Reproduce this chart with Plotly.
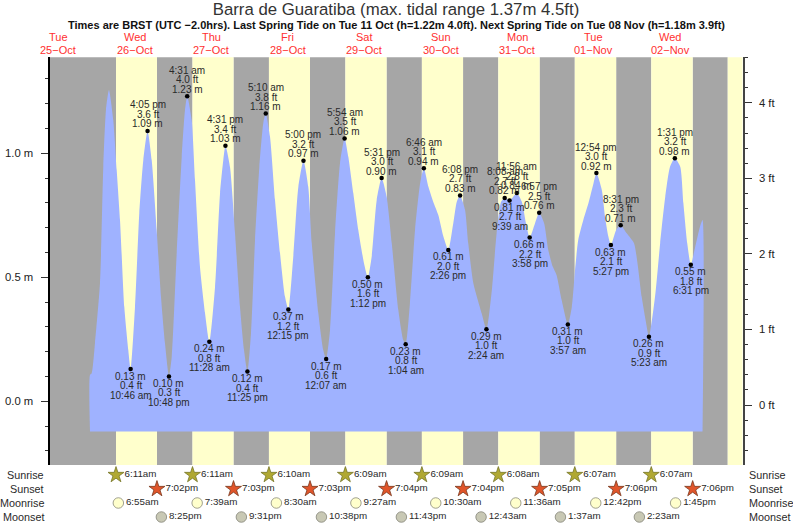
"""Tide chart for Barra de Guaratiba, 25-Oct to 03-Nov."""

import plotly.graph_objects as go

WIDTH = 793
HEIGHT = 525
FONT = "Liberation Sans"

# hours are counted from 26-Oct 00:00
X_RANGE = [-14.68, 202.8]
M_RANGE = [-0.257, 1.387]
FT_RANGE = [-0.794, 4.602]
TIDE_BASE = -0.122

day_names = ["Tue", "Wed", "Thu", "Fri", "Sat", "Sun", "Mon", "Tue", "Wed"]
day_dates = ["25−Oct", "26−Oct", "27−Oct", "28−Oct", "29−Oct", "30−Oct", "31−Oct", "01−Nov", "02−Nov"]

# high and low waters as printed on the chart
ext_day = [0, 0, 0, 1, 1, 1, 1, 2, 2, 2, 3, 3, 3, 3, 4, 4, 4, 4, 5, 5, 5, 5, 5, 5, 6, 6, 6, 6, 7, 7, 7]
ext_time = ["10:46 am", "4:05 pm", "10:48 pm", "4:31 am", "11:28 am", "4:31 pm", "11:25 pm",
            "5:10 am", "12:15 pm", "5:00 pm", "12:07 am", "5:54 am", "1:12 pm", "5:31 pm",
            "1:04 am", "6:46 am", "2:26 pm", "6:08 pm", "2:24 am", "8:08 am", "9:39 am",
            "11:56 am", "3:58 pm", "6:57 pm", "3:57 am", "12:54 pm", "5:27 pm", "8:31 pm",
            "5:23 am", "1:31 pm", "6:31 pm"]
ext_m = [0.13, 1.09, 0.10, 1.23, 0.24, 1.03, 0.12, 1.16, 0.37, 0.97, 0.17, 1.06, 0.50, 0.90,
         0.23, 0.94, 0.61, 0.83, 0.29, 0.82, 0.81, 0.84, 0.66, 0.76, 0.31, 0.92, 0.63, 0.71,
         0.26, 0.98, 0.55]
ext_ft = [0.4, 3.6, 0.3, 4.0, 0.8, 3.4, 0.4, 3.8, 1.2, 3.2, 0.6, 3.5, 1.6, 3.0,
          0.8, 3.1, 2.0, 2.7, 1.0, 2.7, 2.7, 2.8, 2.2, 2.5, 1.0, 3.0, 2.1, 2.3,
          0.9, 3.2, 1.8]
ext_low = [1, 0, 1, 0, 1, 0, 1, 0, 1, 0, 1, 0, 1, 0,
           1, 0, 1, 0, 1, 0, 1, 0, 1, 0, 1, 0, 1, 0,
           1, 0, 1]

# water level read between the printed extremes
mid_h = [-1.98, -1.44, -0.41, 1.16, 2.2, 3.04, 3.98, 5.33, 6.4, 7.44, 8.79, 10.04,
         12.14, 13.49, 14.75, 17.38, 18.95, 20.3, 21.55,
         23.66, 25.23, 26.8, 27.83, 29.93, 30.97, 32.54, 34.11,
         37.25, 38.83, 39.85, 41.95, 43.52, 45.09, 46.35,
         48.54, 49.8, 51.15, 52.4, 54.5, 56.07, 57.64, 59.2,
         61.8, 63.4, 66.5, 67.6, 69.66, 71.2,
         73.33, 74.9, 76.47, 79.07, 80.64, 82.2, 84.0,
         86.4, 87.98, 91.1, 92.7, 94.76, 96.3,
         98.4, 100.0, 101.6, 104.2, 105.7, 107.3, 108.9,
         112.0, 113.1, 115.7, 116.7, 118.3, 120.9,
         124.1, 125.6, 127.0, 130.8, 133.5, 134.8,
         137.65, 140.5, 141.8, 143.2, 144.4, 146.0,
         149.2, 150.2, 151.2, 152.8, 154.4, 156.0,
         158.6, 159.6, 160.65, 163.1, 166.4, 168.7, 169.8, 171.1, 172.5,
         175.3, 176.9, 178.5, 180.0, 183.2, 184.2, 185.4,
         187.9, 189.4, 190.2]
mid_m = [0.106, 0.113, 0.235, 0.477, 0.946, 1.175, 1.255, 1.134, 0.933, 0.731, 0.38, 0.207,
         0.38, 0.759, 0.973, 0.973, 0.691, 0.42, 0.235,
         0.179, 0.598, 0.985, 1.175, 1.134, 0.892, 0.54, 0.356,
         0.461, 0.84, 0.973, 0.945, 0.679, 0.38, 0.207,
         0.275, 0.65, 0.945, 1.122, 1.067, 0.812, 0.598, 0.422,
         0.583, 0.865, 0.865, 0.638, 0.356, 0.207,
         0.287, 0.679, 0.961, 0.986, 0.839, 0.691, 0.556,
         0.583, 0.812, 0.825, 0.637, 0.368, 0.247,
         0.395, 0.691, 0.879, 0.865, 0.805, 0.751, 0.664,
         0.718, 0.805, 0.771, 0.637, 0.476, 0.355,
         0.449, 0.677, 0.805, 0.825, 0.805, 0.718,
         0.718, 0.718, 0.61, 0.543, 0.509, 0.408,
         0.381, 0.529, 0.65, 0.731, 0.798, 0.879,
         0.852, 0.744, 0.664, 0.691, 0.677, 0.637, 0.556, 0.422, 0.315,
         0.422, 0.637, 0.825, 0.946, 0.946, 0.798, 0.637,
         0.623, 0.704, 0.731]

sunrise_day = [0, 1, 2, 3, 4, 5, 6, 7]
sunrise_time = ["6:11am", "6:11am", "6:10am", "6:09am", "6:09am", "6:08am", "6:07am", "6:07am"]
sunset_day = [0, 1, 2, 3, 4, 5, 6, 7]
sunset_time = ["7:02pm", "7:03pm", "7:03pm", "7:04pm", "7:04pm", "7:05pm", "7:06pm", "7:06pm"]
moonrise_day = [0, 1, 2, 3, 4, 5, 6, 7]
moonrise_time = ["6:55am", "7:39am", "8:30am", "9:27am", "10:30am", "11:36am", "12:42pm", "1:45pm"]
moonset_day = [0, 1, 2, 3, 5, 6, 7]
moonset_time = ["8:25pm", "9:31pm", "10:38pm", "11:43pm", "12:43am", "1:37am", "2:23am"]
next_sunrise = (8, "6:06am")


def hours(day, clock):
    """Hours since 26-Oct 00:00 for a day index and a clock string."""
    clock = clock.replace(" ", "")
    hh, mm = clock[:-2].split(":")
    hh = int(hh) % 12 + (12 if clock.endswith("pm") else 0)
    return day * 24 + hh + int(mm) / 60


ext_h = [hours(d, t) for d, t in zip(ext_day, ext_time)]
curve = sorted(list(zip(ext_h, ext_m)) + list(zip(mid_h, mid_m)))
curve_h = [p[0] for p in curve]
curve_m = [p[1] for p in curve]

fig = go.Figure()

# day / night bands
sunrise_h = [hours(d, t) for d, t in zip(sunrise_day, sunrise_time)] + [hours(*next_sunrise)]
sunset_h = [hours(d, t) for d, t in zip(sunset_day, sunset_time)] + [X_RANGE[1]]
night_start = [X_RANGE[0]] + sunset_h[:-1]
for x0, x1 in zip(night_start, sunrise_h):
    fig.add_shape(type="rect", x0=x0, x1=x1, xref="x", y0=0, y1=1, yref="y domain",
                  fillcolor="#a6a6a6", line_width=0, layer="below")
for x0, x1 in zip(sunrise_h, sunset_h):
    fig.add_shape(type="rect", x0=x0, x1=x1, xref="x", y0=0, y1=1, yref="y domain",
                  fillcolor="#ffffcc", line_width=0, layer="below")

fig.add_trace(go.Scatter(
    x=[curve_h[0]] + curve_h + [curve_h[-1]],
    y=[TIDE_BASE] + curve_m + [TIDE_BASE],
    mode="lines", fill="toself", fillcolor="#9fb2ff",
    line={"width": 0, "shape": "spline", "smoothing": 0.6},
    hoverinfo="skip",
))
fig.add_trace(go.Scatter(
    x=ext_h, y=ext_m, mode="markers",
    marker={"size": 4.5, "color": "black"}, hoverinfo="skip",
))
# keeps the feet axis on the page
fig.add_trace(go.Scatter(
    x=ext_h, y=ext_ft, yaxis="y2", mode="markers",
    marker={"opacity": 0}, hoverinfo="skip",
))

# three stacked lines per extreme, tighter than plotly's line height
for h, m, ft, clock, low in zip(ext_h, ext_m, ext_ft, ext_time, ext_low):
    lines = [f"{m:.2f} m", f"{ft:.1f} ft", clock]
    for text, shift in zip(lines, [7, 16.5, 26]):
        fig.add_annotation(
            x=h, y=m, xref="x", yref="y", text=text, showarrow=False,
            yshift=-shift if low else shift, xanchor="center", yanchor="middle",
            font={"size": 10, "color": "#2a2a2a"},
        )

# sun and moon rows
rows = [
    ("Sunrise", sunrise_day, sunrise_time, "star", 12, "#b0a832", "#77772a"),
    ("Sunset", sunset_day, sunset_time, "star", 12, "#e0552a", "#7a3a20"),
    ("Moonrise", moonrise_day, moonrise_time, "circle", 10.5, "#ffffcc", "#8a8a7a"),
    ("Moonset", moonset_day, moonset_time, "circle", 10.5, "#c8c8b4", "#85857a"),
]
for i, (label, days, times, symbol, size, color, edge) in enumerate(rows):
    fig.add_trace(go.Scatter(
        x=[hours(d, t) for d, t in zip(days, times)], y=[i] * len(days),
        xaxis="x2", yaxis="y3", mode="markers+text", text=times,
        textposition="middle right", textfont={"size": 9.8, "color": "#2a2a2a"},
        marker={"symbol": symbol, "size": size, "color": color, "line": {"color": edge, "width": 0.8}},
        hoverinfo="skip", cliponaxis=False,
    ))
    fig.add_annotation(x=45.5 / WIDTH, y=i, xref="paper", yref="y3", text=label, showarrow=False,
                       xanchor="right", font={"size": 10.8, "color": "#2a2a2a"})
    fig.add_annotation(x=746.5 / WIDTH, y=i, xref="paper", yref="y3", text=label, showarrow=False,
                       xanchor="left", font={"size": 10.8, "color": "#2a2a2a"})

# date headers over each noon
for i, (name, date) in enumerate(zip(day_names, day_dates)):
    for text, py in [(name, 37.5), (date, 49.5)]:
        fig.add_annotation(
            x=(i - 1) * 24 + 12, y=1 - py / HEIGHT, xref="x", yref="paper", text=text,
            showarrow=False, xanchor="center", yanchor="middle",
            font={"size": 11, "color": "#ff3030"},
        )

fig.add_annotation(
    x=396 / WIDTH, y=1 - 25 / HEIGHT, xref="paper", yref="paper", showarrow=False,
    text="<b>Times are BRST (UTC −2.0hrs). Last Spring Tide on Tue 11 Oct (h=1.22m 4.0ft). "
         "Next Spring Tide on Tue 08 Nov (h=1.18m 3.9ft)</b>",
    xanchor="center", yanchor="middle", font={"size": 11, "color": "#111111"},
)

domain_x = [49.5 / WIDTH, 742.7 / WIDTH]
fig.update_layout(
    width=WIDTH,
    height=HEIGHT,
    showlegend=False,
    paper_bgcolor="white",
    plot_bgcolor="white",
    margin={"l": 0, "r": 0, "t": 0, "b": 0},
    font={"family": FONT, "color": "#222222"},
    title={"text": "Barra de Guaratiba (max. tidal range 1.37m 4.5ft)", "x": 396 / WIDTH,
           "xanchor": "center", "y": 1 - 9.5 / HEIGHT, "yanchor": "middle",
           "font": {"size": 16.8, "color": "#333333"}},
    xaxis={"domain": domain_x, "range": X_RANGE, "visible": False},
    xaxis2={"domain": domain_x, "range": X_RANGE, "visible": False, "anchor": "y3"},
    yaxis={
        "domain": [1 - 465 / HEIGHT, 1 - 57.3 / HEIGHT], "range": M_RANGE, "anchor": "x",
        "tickmode": "array", "tickvals": [0, 0.5, 1.0], "ticktext": ["0.0 m", "0.5 m", "1.0 m"],
        "ticks": "outside", "ticklen": 7, "tickwidth": 1, "tickcolor": "#333333",
        "ticklabelstandoff": 5, "tickfont": {"size": 11.3, "color": "#222222"},
        "minor": {"tickvals": [-0.2, -0.1, 0.1, 0.2, 0.3, 0.4, 0.6, 0.7, 0.8, 0.9, 1.1, 1.2, 1.3],
                  "ticks": "outside", "ticklen": 3, "tickcolor": "#333333", "tickwidth": 1},
        "showgrid": False, "zeroline": False,
        "showline": True, "linecolor": "black", "linewidth": 2,
    },
    yaxis2={
        "overlaying": "y", "side": "right", "anchor": "x", "range": FT_RANGE,
        "tickmode": "array", "tickvals": [0, 1, 2, 3, 4],
        "ticktext": ["0 ft", "1 ft", "2 ft", "3 ft", "4 ft"],
        "ticks": "outside", "ticklen": 7, "tickwidth": 1, "tickcolor": "#333333",
        "ticklabelstandoff": 5, "tickfont": {"size": 11.3, "color": "#222222"},
        "minor": {"tickvals": [-0.6, -0.4, -0.2, 0.2, 0.4, 0.6, 0.8, 1.2, 1.4, 1.6, 1.8, 2.2, 2.4,
                               2.6, 2.8, 3.2, 3.4, 3.6, 3.8, 4.2, 4.4, 4.6],
                  "ticks": "outside", "ticklen": 3, "tickcolor": "#333333", "tickwidth": 1},
        "showgrid": False, "zeroline": False,
        "showline": True, "linecolor": "#444444", "linewidth": 2,
    },
    yaxis3={"domain": [0, 1 - 465 / HEIGHT], "range": [3.57, -0.71], "visible": False, "anchor": "x2"},
)

# the page's default body margin would push the chart 8px off
fig.write_html("out.html", config={"displayModeBar": False},
               post_script="document.body.style.margin = '0';")
